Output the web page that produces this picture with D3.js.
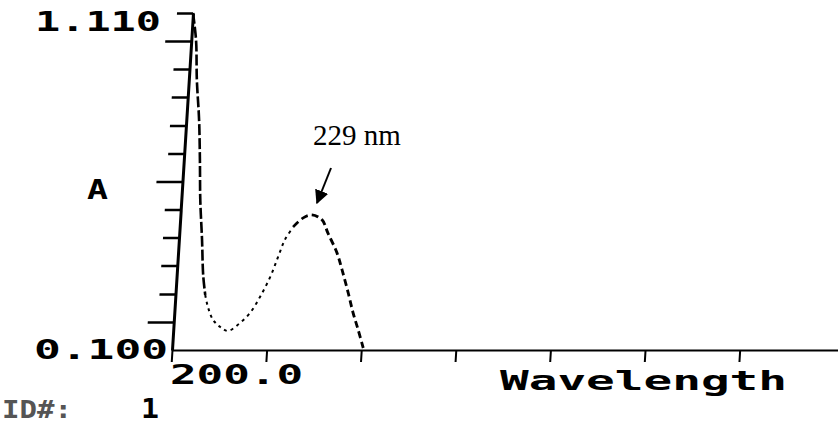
<!DOCTYPE html>
<html>
<head>
<meta charset="utf-8">
<script src="https://cdn.jsdelivr.net/npm/d3@7"></script>
<style>
	html, body { margin: 0; padding: 0; background: #fff; }
	svg { display: block; }
	.mono { font-family: 'DejaVu Sans Mono', monospace; font-weight: bold; }
</style>
</head>
<body>
<div id="canvas"></div>
<script>
// spectrum (nm, absorbance)
const wavelengths = [200.0, 201.0, 201.7, 202.7, 203.4, 204.0, 204.9, 205.6, 206.3, 207.1,
	208.3, 209.9, 211.6, 214.0, 216.0, 217.9, 219.8, 221.2, 222.4, 224.0,
	226.0, 227.8, 230.0, 231.4, 233.6, 234.9, 236.5, 237.8, 239.1, 240.4];
const absorbance = [1.110, 1.029, 0.909, 0.789, 0.669, 0.550, 0.430, 0.325, 0.265, 0.226,
	0.190, 0.169, 0.157, 0.181, 0.211, 0.259, 0.319, 0.379, 0.430, 0.469,
	0.496, 0.505, 0.490, 0.451, 0.391, 0.340, 0.271, 0.211, 0.160, 0.106];

// the plotter draws the trace in three pen styles
const segmentBreaks = [0, 8, 19, 29];

const yTicks = [0.100, 0.184, 0.268, 0.353, 0.437, 0.521, 0.605, 0.689, 0.773, 0.858, 0.942, 1.026, 1.110];
const yMajorTicks = [0.184, 0.605, 1.026];
const xTicks = [200, 220, 240, 260, 280, 300, 320];

const yMaxLabel = '1.110';
const yMinLabel = '0.100';
const xMinLabel = '200.0';
const xTitle = 'Wavelength';
const yTitle = 'A';
const peakLabel = '229 nm';
const idLabel = 'ID#:';
const idValue = '1';

const w = 838;
const h = 427;
const x0 = 172;
const yBase = 350;
const yTop = 13;

const svg = d3.select('#canvas')
							.append('svg')
							.attr('width', w)
							.attr('height', h);

const defs = svg.append('defs');
defs.append('marker')
		.attr('id', 'arrow')
		.attr('viewBox', '0 0 10 10')
		.attr('refX', 9)
		.attr('refY', 5)
		.attr('markerWidth', 14)
		.attr('markerHeight', 14)
		.attr('markerUnits', 'userSpaceOnUse')
		.attr('orient', 'auto')
		.append('path')
		.attr('d', 'M0,0 L10,5 L0,10 Z')
		.attr('fill', '#000');

const xScale = d3.scaleLinear()
									.domain([200, 341])
									.range([x0, w + 1]);

const yScale = d3.scaleLinear()
									.domain([0.1, 1.11])
									.range([yBase, yTop]);

// the scanned y axis leans right, so the plot area is skewed a little
const plot = svg.append('g')
								.attr('transform', 'translate(0,' + yBase + ') skewX(-3.565) translate(0,' + (-yBase) + ')');

const xAxis = d3.axisBottom(xScale)
								.tickValues(xTicks)
								.tickSize(12)
								.tickSizeOuter(0)
								.tickFormat('');

plot.append('g')
		.attr('id', 'x-axis')
		.attr('transform', 'translate(0,' + yBase + ')')
		.call(xAxis)
		.call(g => g.select('.domain').attr('stroke-width', 2))
		.call(g => g.selectAll('.tick line').attr('stroke-width', 2));

const yAxisMinor = d3.axisLeft(yScale)
										.tickValues(yTicks.filter(v => yMajorTicks.indexOf(v) < 0 && v > 0.1))
										.tickSize(16)
										.tickSizeOuter(0)
										.tickFormat('');

const yAxisMajor = d3.axisLeft(yScale)
										.tickValues(yMajorTicks)
										.tickSize(26)
										.tickSizeOuter(0)
										.tickFormat('');

plot.append('g')
		.attr('id', 'y-axis')
		.attr('transform', 'translate(' + x0 + ',0)')
		.call(yAxisMinor)
		.call(g => g.select('.domain').attr('stroke-width', 3))
		.call(g => g.selectAll('.tick line').attr('stroke-width', 2.5));

plot.append('g')
		.attr('transform', 'translate(' + x0 + ',0)')
		.call(yAxisMajor)
		.call(g => g.select('.domain').remove())
		.call(g => g.selectAll('.tick line').attr('stroke-width', 2.5));

const points = wavelengths.map((d, i) => [d, absorbance[i]]);

const line = d3.line()
								.x(d => xScale(d[0]))
								.y(d => yScale(d[1]))
								.curve(d3.curveCatmullRom.alpha(0.5));

const penStyles = [
	{ dash: '11,3', width: 2.6 },
	{ dash: '3,4', width: 2 },
	{ dash: '7,4', width: 2.8 }
];

plot.selectAll('path.trace')
		.data(penStyles)
		.enter()
		.append('path')
		.attr('class', 'trace')
		.attr('d', (d, i) => line(points.slice(segmentBreaks[i], segmentBreaks[i + 1] + 1)))
		.attr('fill', 'none')
		.attr('stroke', '#000')
		.attr('stroke-width', d => d.width)
		.attr('stroke-dasharray', d => d.dash);

// printer labels
const labels = [
	{ text: yMaxLabel, x: 35, y: 31, len: 126 },
	{ text: yMinLabel, x: 34, y: 359, len: 134 },
	{ text: yTitle, x: 87, y: 199, len: 21 },
	{ text: xMinLabel, x: 170, y: 384, len: 133 },
	{ text: xTitle, x: 500, y: 390, len: 287 },
	{ text: idValue, x: 141, y: 418, len: 18 }
];

svg.selectAll('text.mono')
		.data(labels)
		.enter()
		.append('text')
		.attr('class', 'mono')
		.attr('x', d => d.x)
		.attr('y', d => d.y)
		.attr('font-size', 27)
		.attr('textLength', d => d.len)
		.attr('lengthAdjust', 'spacingAndGlyphs')
		.attr('fill', '#000')
		.text(d => d.text);

svg.append('text')
		.attr('class', 'mono')
		.attr('x', 2)
		.attr('y', 418)
		.attr('font-size', 24)
		.attr('textLength', 70)
		.attr('lengthAdjust', 'spacingAndGlyphs')
		.attr('fill', '#555')
		.text(idLabel);

// peak annotation
svg.append('text')
		.attr('x', 313)
		.attr('y', 145)
		.attr('font-family', "'Liberation Serif', 'Times New Roman', serif")
		.attr('font-size', 29)
		.attr('fill', '#000')
		.text(peakLabel);

svg.append('line')
		.attr('x1', 331)
		.attr('y1', 168)
		.attr('x2', 317)
		.attr('y2', 203)
		.attr('stroke', '#000')
		.attr('stroke-width', 2)
		.attr('marker-end', 'url(#arrow)');
</script>
</body>
</html>
